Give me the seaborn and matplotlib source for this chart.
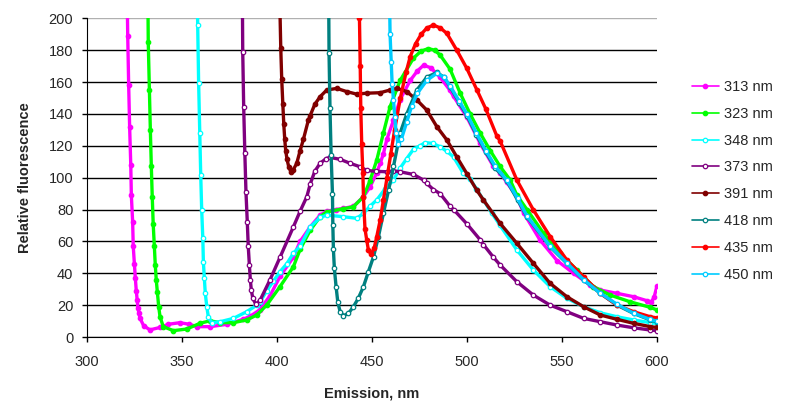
import matplotlib
matplotlib.use('Agg')
import matplotlib.pyplot as plt
import seaborn as sns

sns.set_style('white')
plt.rcParams['font.family'] = ['Liberation Sans', 'DejaVu Sans']

# emission spectra, one pair of lists per excitation wavelength
nm_313 = [321.3, 321.6, 322.1, 322.6, 323.2, 323.5, 324.2, 324.5, 325.1, 325.6, 326.1, 326.6, 327.0, 327.5,
          328.0, 330.0, 333.3, 338.6, 343.0, 349.0, 354.0, 358.0, 365.0, 374.0, 382.0, 386.0, 391.0, 396.5,
          401.7, 408.7, 412.3, 417.5, 422.8, 426.3, 431.0, 435.0, 440.3, 445.6, 449.0, 452.6, 454.4, 456.1,
          457.9, 461.4, 464.9, 470.2, 474.0, 477.2, 481.0, 485.9, 491.0, 493.0, 500.0, 507.0, 514.0, 517.5,
          521.0, 526.3, 529.8, 538.4, 547.4, 556.1, 564.9, 570.2, 579.0, 587.7, 594.7, 597.0, 598.5, 600.0]
val_313 = [215, 189, 158, 132, 108, 89, 72, 57, 46, 37, 29, 23, 18, 15,
           12, 7, 4.5, 6, 8, 9, 8, 6.5, 6.5, 8, 11, 13, 17, 26,
           38, 50, 60, 69, 76.5, 79, 80, 80.7, 82, 88, 94, 103, 109, 115,
           124, 136, 149, 161, 167, 170.5, 169, 163, 155, 151, 138, 121.5, 107, 103,
           97, 88, 78, 61, 48, 40, 32.6, 29.5, 27.4, 25.3, 22.8, 22, 25, 32]

nm_323 = [332.2, 332.4, 333.0, 333.5, 334.0, 334.5, 335.0, 335.6, 336.1, 336.6, 337.2, 337.9, 338.6, 340.3,
          345.6, 352.6, 359.6, 364.9, 370.2, 377.2, 384.2, 389.5, 394.7, 401.7, 408.7, 412.3, 417.6, 422.8,
          426.3, 435.0, 440.3, 445.6, 449.0, 452.6, 456.1, 459.6, 464.9, 471.9, 476.0, 479.8, 483.0, 485.9,
          491.2, 496.5, 501.7, 507.0, 512.3, 517.5, 522.8, 526.3, 531.6, 540.4, 549.1, 557.9, 566.6, 575.4,
          585.9, 596.5, 600.0]
val_323 = [215, 185, 155, 130, 107.5, 88, 71, 57, 45, 36, 28, 19, 12.7, 6.5,
           4, 5, 8.6, 10.2, 9, 9, 10.7, 13.8, 20, 31.6, 44, 55, 67, 75.5,
           78.5, 80.5, 81.7, 88, 98, 111, 128, 144.5, 161, 175, 179.5, 181, 180, 177,
           168, 153, 140, 128, 117, 107, 98.5, 89, 80, 65, 52.5, 42, 31.6, 26.3,
           22.1, 18.6, 17]

nm_348 = [358.2, 358.4, 358.9, 359.5, 360.0, 360.5, 361.1, 361.4, 361.9, 362.4, 363.2, 364.0, 365.8, 370.2,
          377.2, 384.2, 389.5, 391.2, 394.7, 398.2, 401.7, 405.3, 408.7, 412.3, 417.6, 422.8, 426.3, 435.0,
          442.1, 445.6, 449.0, 452.6, 457.0, 461.4, 464.9, 468.4, 472.0, 475.4, 478.0, 482.0, 485.9, 489.5,
          493.0, 498.0, 501.7, 505.0, 508.7, 513.0, 517.5, 526.3, 535.0, 543.8, 552.6, 561.4, 570.2, 579.0,
          587.7, 596.5, 600.0]
val_348 = [215, 196, 159.5, 128, 101.6, 80, 62, 47, 37, 27.4, 19, 12.7, 9, 9.6,
           11.7, 15.9, 20, 22, 29, 35, 41, 46, 52.5, 57, 69, 75, 76.5, 75.5,
           74.5, 77.6, 82, 86, 93, 98.5, 106, 112, 118, 120, 122, 121.5, 119.4, 116.5,
           113, 103, 99, 93, 86, 78, 70, 54.6, 42, 31.6, 24.3, 19, 15.2, 12.7,
           10.7, 9, 8.5]

nm_373 = [381.9, 382.1, 382.6, 383.2, 383.8, 384.5, 385.0, 385.6, 386.1, 386.6, 387.4, 389.0, 391.2, 396.5,
          401.7, 408.7, 412.3, 415.8, 417.6, 420.0, 422.8, 426.0, 428.1, 433.3, 438.6, 443.9, 447.3, 452.0,
          457.9, 461.4, 464.9, 471.9, 477.2, 478.9, 482.4, 485.9, 491.2, 493.0, 500.0, 507.0, 508.7, 514.0,
          517.5, 526.3, 535.0, 543.8, 552.6, 561.4, 570.2, 579.0, 587.7, 596.5, 600.0]
val_373 = [215, 179, 144.5, 115.6, 91, 72, 57, 45, 36, 29.5, 24.3, 20.5, 23, 36,
           50, 69, 79, 88, 96, 104, 109, 112, 112.7, 111.5, 109, 106.8, 104.5, 104,
           103.7, 104.3, 103.7, 102, 98.5, 96.4, 92.5, 90, 82, 80, 71, 61, 58, 50,
           45.2, 34.7, 26.3, 20, 15.9, 11.7, 9.6, 7.5, 5.8, 4.4, 4]

nm_391 = [401.5, 402.1, 402.6, 403.2, 403.7, 404.2, 404.7, 405.4, 406.3, 407.4, 408.5, 410.5, 412.3, 414.0,
          416.6, 417.6, 420.0, 422.8, 426.3, 431.6, 436.8, 442.1, 447.3, 454.4, 459.6, 463.2, 468.4, 473.7,
          478.9, 484.2, 489.5, 494.7, 500.0, 505.3, 508.7, 517.5, 526.3, 535.0, 543.8, 552.6, 561.4, 570.2,
          579.0, 587.7, 596.5, 600.0]
val_391 = [215, 181.5, 162, 146, 133.4, 124, 117, 111.5, 106.8, 103.7, 104.5, 109, 117, 124,
           136, 139, 146, 150.8, 155, 156, 154, 152.4, 153, 153.3, 155, 156, 154, 148.7,
           142.4, 132, 123.6, 113, 102.5, 92, 86, 71.3, 58.8, 46.2, 33.7, 25.3, 19, 13.8,
           11.1, 8.6, 6.5, 6]

nm_418 = [427.3, 427.5, 428.0, 428.6, 429.3, 429.5, 429.8, 430.3, 431.2, 432.1, 433.3, 435.1, 437.7, 440.3,
          442.9, 445.6, 448.2, 450.9, 453.5, 456.1, 458.8, 461.4, 464.9, 468.4, 473.7, 478.9, 484.2, 488.0,
          491.2, 496.0, 500.0, 505.0, 510.0, 515.0, 521.0, 526.7, 531.6, 543.8, 552.6, 561.4, 570.2, 579.0,
          587.7, 596.5, 600.0]
val_418 = [215, 178, 143.5, 114, 90, 70, 55, 43, 31.6, 22, 16, 13.4, 14.8, 19,
           24.3, 31.6, 41, 50.4, 63, 77.6, 92, 107, 128, 140, 155, 163, 166, 163,
           157, 147, 139, 127, 116, 106, 98, 86, 75.5, 56.6, 46.2, 35.8, 27.4, 20,
           14.8, 10.7, 9.5]

nm_435 = [443.3, 443.5, 443.9, 444.2, 444.7, 445.3, 445.6, 446.4, 447.3, 448.2, 449.5, 451.2, 452.6, 454.4,
          456.1, 458.0, 460.0, 462.0, 465.0, 468.0, 470.2, 473.0, 476.0, 479.0, 482.4, 486.0, 489.5, 494.7,
          500.0, 505.3, 510.0, 515.8, 517.5, 526.3, 535.0, 543.8, 552.6, 561.4, 570.2, 579.0, 587.7, 596.5,
          600.0]
val_435 = [215, 200, 170, 143.5, 121, 103, 88, 68, 61, 54.6, 52, 55.6, 63, 73.4,
           86, 100, 115, 130, 150, 166, 176, 184, 190, 194, 195.7, 194, 190.5, 180,
           168.5, 155, 143, 126, 123, 98.5, 79.7, 63, 48.3, 37.8, 27.4, 20, 15.9, 12.7,
           12]

nm_450 = [459.3, 459.6, 460.2, 460.7, 461.4, 462.1, 462.8, 463.8, 465.5, 468.4, 471.0, 474.0, 478.9, 484.2,
          488.0, 491.2, 496.0, 500.0, 505.0, 510.0, 515.0, 521.0, 526.7, 531.6, 543.8, 552.6, 561.4, 570.2,
          579.0, 587.7, 596.5, 600.0]
val_450 = [215, 190, 172.7, 158.7, 148.7, 138, 128, 121, 124, 135, 145, 153, 161, 165.5,
           163, 157.5, 148, 140, 128, 117, 107, 98.5, 87, 76, 57, 46.5, 36, 27.5,
           20.5, 15, 11, 10]

labels = ['313 nm', '323 nm', '348 nm', '373 nm', '391 nm', '418 nm', '435 nm', '450 nm']
colors = ['#FF00FF', '#00FF00', '#00FFFF', '#800080', '#800000', '#008080', '#FF0000', '#00CCFF']
hollow = [False, False, True, True, False, True, False, True]
series = [(nm_313, val_313), (nm_323, val_323), (nm_348, val_348), (nm_373, val_373),
          (nm_391, val_391), (nm_418, val_418), (nm_435, val_435), (nm_450, val_450)]

fig = plt.figure(figsize=(7.9, 4.12), dpi=100)
ax = fig.add_axes([0.1097, 0.182, 0.7219, 0.7736])

for (x, y), lab, c, h in zip(series, labels, colors, hollow):
    sns.lineplot(x=x, y=y, ax=ax, sort=False, color=c, label=lab, linewidth=2.4,
                 marker='o', markersize=3.2, markerfacecolor='white' if h else c,
                 markeredgecolor=c, markeredgewidth=0.9)

ax.set_xlim(300, 600)
ax.set_ylim(0, 200)
ax.set_xticks(range(300, 601, 50))
ax.set_yticks(range(0, 201, 20))
ax.yaxis.grid(True, color='black', linewidth=1.0)
ax.get_ygridlines()[-1].set_color('#b0b0b0')
ax.set_axisbelow(True)
for side in ['top', 'right']:
    ax.spines[side].set_visible(False)
ax.spines['left'].set_color('black')
ax.spines['bottom'].set_color('black')
ax.tick_params(axis='both', direction='out', length=3.6, width=1, color='black',
               labelsize=10.5, left=True, bottom=True)
ax.tick_params(axis='x', pad=9)
ax.tick_params(axis='y', pad=6)

ax.set_xlabel('Emission, nm', fontsize=10.5, fontweight='bold', labelpad=13)
ax.set_ylabel('Relative fluorescence', fontsize=10.5, fontweight='bold', labelpad=12)

leg = ax.legend(loc='upper left', bbox_to_anchor=(0.868, 0.82), bbox_transform=fig.transFigure,
                frameon=False, fontsize=10.5, handlelength=1.9, handletextpad=0.35,
                labelspacing=0.88, borderaxespad=0)
for line in leg.get_lines():
    line.set_linewidth(1.2)

fig.savefig('out.png', dpi=100)
